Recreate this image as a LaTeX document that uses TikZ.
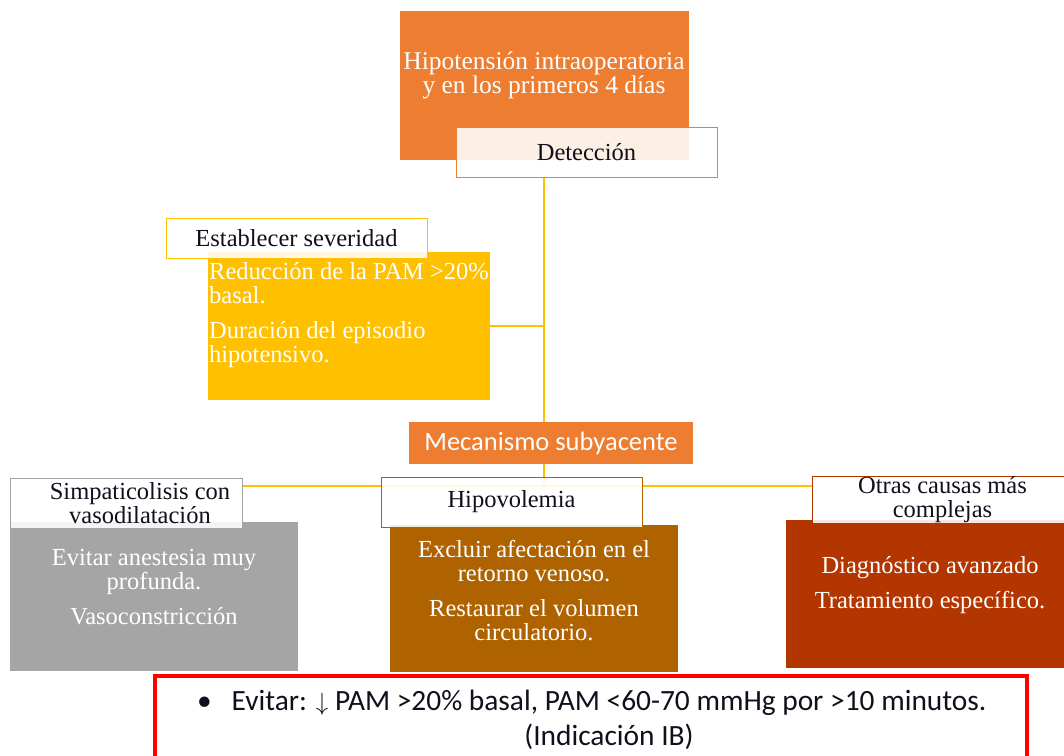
\documentclass[tikz,border=0pt]{standalone}
\usepackage{fontspec}
\setmainfont{Liberation Serif}
\newfontfamily\calibri{Carlito}
\usetikzlibrary{positioning, backgrounds}

\definecolor{hotorange}{HTML}{ED7D31}
\definecolor{gold}{HTML}{FFC000}
\definecolor{ashgray}{HTML}{A5A5A5}
\definecolor{rust}{HTML}{AE6300}
\definecolor{brick}{HTML}{B33600}
\definecolor{inkblue}{HTML}{10101C}

\begin{document}
\begin{tikzpicture}[
    x=1pt, y=-1pt,
    box/.style={
        rectangle, minimum width=288pt, minimum height=148pt, inner sep=0pt,
        align=center, text=white, font=\fontsize{24.5}{24.5}\selectfont
    },
    tag/.style={
        rectangle, draw, line width=1pt, fill=white, fill opacity=0.88,
        text opacity=1, text=inkblue, minimum width=261pt, minimum height=50pt,
        inner sep=0pt, align=center, font=\fontsize{24.5}{24}\selectfont
    },
    lift/.style={text depth=#1},
    link/.style={draw=gold, line width=2pt},
]
\clip (0,0) rectangle (1064,755);

% Start: intraoperative hypotension
\node[box, fill=hotorange, minimum width=289pt, minimum height=149pt, lift=25pt,
      font=\fontsize{25.5}{24}\selectfont] (hipo) at (544,85.5)
    {Hipotensión intraoperatoria\\y en los primeros 4 días};
\node[tag, draw=hotorange] (det) at (586.5,152) {Detección};

% Severity
\node[box, fill=gold, minimum width=282pt, align=left, lift=27pt] (sev) at (349,326)
    {Reducción de la PAM >20\%\\basal.\\[10pt]Duración del episodio\\hipotensivo.};
\node[tag, draw=gold, minimum height=40pt] (estab) at (296.5,238) {Establecer severidad};

% Underlying mechanism
\node[box, fill=hotorange, minimum width=284pt, minimum height=42pt,
      font=\calibri\fontsize{26.5}{28}\selectfont] (mec) at (551,443)
    {Mecanismo subyacente};
\coordinate (hub) at (hipo |- 0,486);

% Branch 1: sympatholysis
\node[box, fill=ashgray, minimum height=149pt, lift=20pt] (vaso) at (154,596.5)
    {Evitar anestesia muy\\profunda.\\[10pt]Vasoconstricción};
\node[tag, draw=ashgray, minimum width=232pt] (simp) at (126,503)
    {\hspace*{28pt}Simpaticolisis con\\\hspace*{28pt}vasodilatación};

% Branch 2: hypovolaemia
\node[box, fill=rust, minimum height=147pt, lift=16pt] (vol) at (534,598.5)
    {Excluir afectación en el\\retorno venoso.\\[10pt]Restaurar el volumen\\circulatorio.};
\node[tag, draw=rust] (hipov) at (511.5,502) {Hipovolemia};

% Branch 3: other causes
\node[box, fill=brick, lift=23pt] (diag) at (930,594)
    {Diagnóstico avanzado\\[10pt]Tratamiento específico.};
\node[tag, draw=brick, minimum height=47pt] (otras) at (942.5,499.5)
    {Otras causas más\\complejas};

% Recommendation
\node[rectangle, draw=red, line width=4pt, minimum width=872pt, minimum height=99pt, align=center,
      font=\calibri\fontsize{29.4}{35}\selectfont, text=inkblue, lift=16pt] (recom) at (591,725.5)
    {\hspace*{36pt}\llap{\textbullet\hspace{20pt}}Evitar: $\downarrow$ PAM >20\% basal, PAM <60-70 mmHg por >10 minutos.\\\hspace*{36pt}(Indicación IB)};

% Connectors
\begin{scope}[on background layer]
\draw[link] (det.south -| hipo) -- (hub);
\draw[link] (sev.east) -- (sev.east -| hipo);
\draw[link] (hub -| simp.east) -- (hub -| otras.west);
\end{scope}

\end{tikzpicture}
\end{document}
